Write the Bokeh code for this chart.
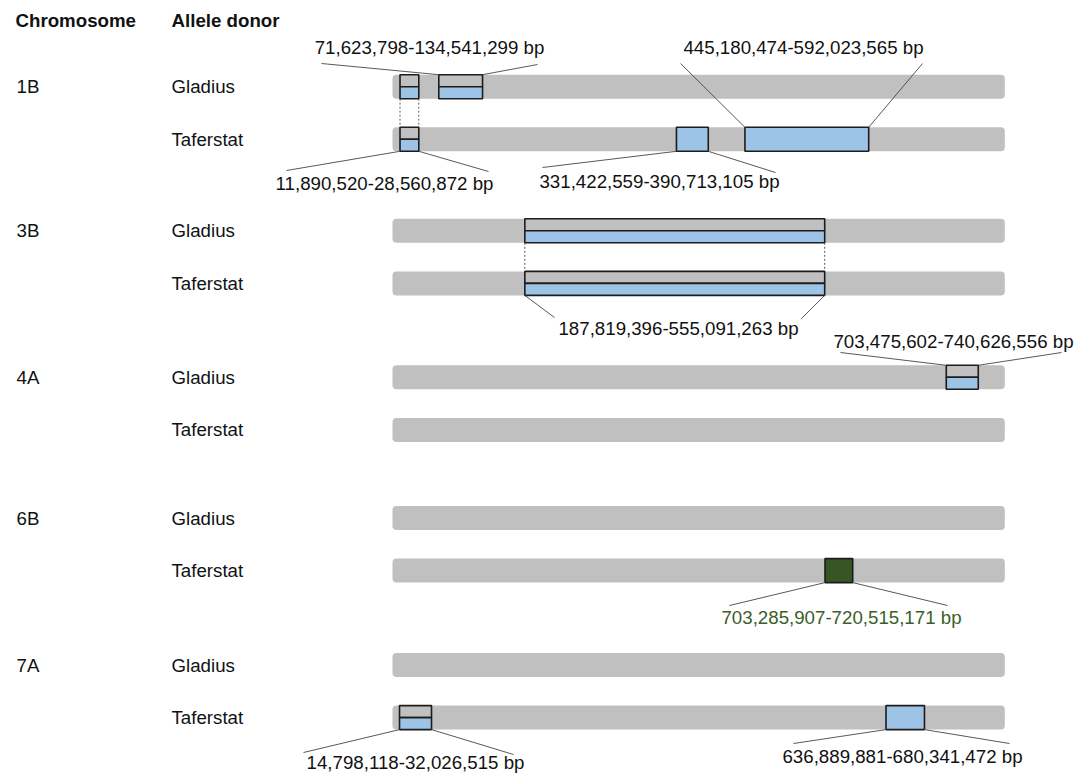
from bokeh.plotting import figure
from bokeh.models import Range1d, ColumnDataSource
from bokeh.core.properties import value
from bokeh.embed import file_html
from bokeh.resources import INLINE

# ---------------- data ----------------
CHROMOSOMES = ["1B", "3B", "4A", "6B", "7A"]
DONORS = ["Gladius", "Taferstat"]
CHROM_LEN = 750  # drawn chromosome length (Mb, schematic)

# introgressed regions as drawn (Mb along the schematic chromosome)
REGION_CHROM = ["1B", "1B", "1B", "1B", "1B", "3B", "3B", "4A", "6B", "7A", "7A"]
REGION_DONOR = ["Gladius", "Gladius", "Taferstat", "Taferstat", "Taferstat",
                "Gladius", "Taferstat", "Gladius", "Taferstat", "Taferstat", "Taferstat"]
REGION_START = [9.2, 56.7, 9.2, 347.8, 431.7, 162.1, 162.1, 678.3, 529.8, 8.6, 604.5]
REGION_END = [32.2, 110.3, 32.2, 386.8, 583.3, 529.4, 529.4, 717.5, 563.7, 47.8, 651.6]
REGION_KIND = ["split", "split", "split", "blue", "blue", "split", "split", "split",
               "green", "split", "blue"]

LABEL_REGION = [1, 4, 2, 3, 6, 7, 8, 9, 10]
LABEL_TEXT = ["71,623,798-134,541,299 bp", "445,180,474-592,023,565 bp",
              "11,890,520-28,560,872 bp", "331,422,559-390,713,105 bp",
              "187,819,396-555,091,263 bp", "703,475,602-740,626,556 bp",
              "703,285,907-720,515,171 bp", "14,798,118-32,026,515 bp",
              "636,889,881-680,341,472 bp"]

# ---------------- layout ----------------
FIG_W, FIG_H = 1091, 773
ORIGIN = 0  # page offset of the figure
X0_PX = 392.0
PX_PER_MB = 612.3 / 750.0
GROUP_Y = [86.2, 230.3, 376.8, 517.5, 664.5]
DONOR_DY = 52.6
HALF_H = 12.0

# label placement (page px): side, centre x, centre y, left leader end, right leader end
LABEL_SIDE = ["top", "top", "bottom", "bottom", "bottom", "top", "bottom", "bottom", "bottom"]
LABEL_CX = [429, 803, 384, 659, 678, 953, 841, 415, 902]
LABEL_CY = [47, 47, 183, 181, 328, 341, 617, 762, 756]
LEAD_L = [(321, 63), (680, 63), (286, 170), (542, 167), (554, 317), (840, 352), (729, 605), (303, 752), (793, 743)]
LEAD_R = [(537, 64), (922, 63), (488, 171), (775, 172), (801, 318), (1061, 352), (947, 605), (513, 754), (1009, 743)]

GREY = "#c0c0c0"
BLUE = "#9dc3e6"
GREEN = "#375623"
EDGE = "#1c1c1c"
LEAD = "#454545"
FONT = value("Liberation Sans")
FSIZE = "18.7px"


def px2x(px):
    return (px - X0_PX) / PX_PER_MB


def row_y(chrom, donor):
    return GROUP_Y[CHROMOSOMES.index(chrom)] + DONOR_DY * DONORS.index(donor)


p = figure(width=FIG_W, height=FIG_H, output_backend="svg", toolbar_location=None,
           x_range=Range1d(px2x(ORIGIN), px2x(ORIGIN + FIG_W)),
           y_range=Range1d(ORIGIN + FIG_H, ORIGIN),
           min_border=0, min_border_left=0, min_border_right=0, min_border_top=0, min_border_bottom=0)
p.axis.visible = False
p.grid.visible = False
p.outline_line_color = None
p.background_fill_color = "white"
p.border_fill_color = "white"

# chromosome bars
bl, br, bt, bb = [], [], [], []
for c in CHROMOSOMES:
    for d in DONORS:
        y = row_y(c, d)
        bl.append(0); br.append(CHROM_LEN); bt.append(y - HALF_H); bb.append(y + HALF_H)
bar_src = ColumnDataSource(dict(left=bl, right=br, top=bt, bottom=bb))
try:
    p.quad(left="left", right="right", top="top", bottom="bottom", source=bar_src,
           fill_color=GREY, line_color=None, border_radius=4)
except Exception:
    p.quad(left="left", right="right", top="top", bottom="bottom", source=bar_src,
           fill_color=GREY, line_color=None)

# regions
quads = dict(left=[], right=[], top=[], bottom=[], fill=[])
for i in range(len(REGION_CHROM)):
    y = row_y(REGION_CHROM[i], REGION_DONOR[i])
    s, e, k = REGION_START[i], REGION_END[i], REGION_KIND[i]
    if k == "split":
        quads["left"] += [s, s]; quads["right"] += [e, e]
        quads["top"] += [y - HALF_H, y]; quads["bottom"] += [y, y + HALF_H]
        quads["fill"] += [GREY, BLUE]
    else:
        quads["left"].append(s); quads["right"].append(e)
        quads["top"].append(y - HALF_H); quads["bottom"].append(y + HALF_H)
        quads["fill"].append(BLUE if k == "blue" else GREEN)
p.quad(left="left", right="right", top="top", bottom="bottom", fill_color="fill",
       line_color=EDGE, line_width=1.6, source=ColumnDataSource(quads))

# dotted links between identical regions in both donors
dx0, dy0, dx1, dy1 = [], [], [], []
for i in range(len(REGION_CHROM)):
    for j in range(len(REGION_CHROM)):
        if (REGION_CHROM[i] == REGION_CHROM[j] and REGION_DONOR[i] == "Gladius"
                and REGION_DONOR[j] == "Taferstat"
                and REGION_START[i] == REGION_START[j] and REGION_END[i] == REGION_END[j]):
            yg = row_y(REGION_CHROM[i], "Gladius") + HALF_H
            yt = row_y(REGION_CHROM[j], "Taferstat") - HALF_H
            for xv in (REGION_START[i], REGION_END[i]):
                dx0.append(xv); dx1.append(xv); dy0.append(yg); dy1.append(yt)
p.segment(x0=dx0, y0=dy0, x1=dx1, y1=dy1, line_color=LEAD, line_width=0.9, line_dash="2 2")

# leader lines and labels
lx0, ly0, lx1, ly1 = [], [], [], []
tx, ty, tc = [], [], []
for n, ri in enumerate(LABEL_REGION):
    y = row_y(REGION_CHROM[ri], REGION_DONOR[ri])
    ye = y - HALF_H if LABEL_SIDE[n] == "top" else y + HALF_H
    lx0 += [REGION_START[ri], REGION_END[ri]]
    ly0 += [ye, ye]
    lx1 += [px2x(LEAD_L[n][0]), px2x(LEAD_R[n][0])]
    ly1 += [LEAD_L[n][1], LEAD_R[n][1]]
    tx.append(px2x(LABEL_CX[n])); ty.append(LABEL_CY[n])
    tc.append("#3c5e28" if REGION_KIND[ri] == "green" else "#111111")
p.segment(x0=lx0, y0=ly0, x1=lx1, y1=ly1, line_color=LEAD, line_width=0.9)
p.text(x=tx, y=ty, text=LABEL_TEXT, text_color=tc, text_font=FONT, text_font_size=FSIZE,
       text_align="center", text_baseline="middle")

# headers and row labels
p.text(x=[px2x(15), px2x(171)], y=[20, 20], text=["Chromosome", "Allele donor"],
       text_font=FONT, text_font_size=FSIZE, text_font_style="bold", text_color="#111111",
       text_align="left", text_baseline="middle")
cx, cy, ct = [], [], []
for c in CHROMOSOMES:
    cx.append(px2x(16)); cy.append(row_y(c, DONORS[0])); ct.append(c)
    for d in DONORS:
        cx.append(px2x(171)); cy.append(row_y(c, d)); ct.append(d)
p.text(x=cx, y=cy, text=ct, text_font=FONT, text_font_size=FSIZE, text_color="#111111",
       text_align="left", text_baseline="middle")

open("out.html", "w").write(file_html(p, INLINE))
